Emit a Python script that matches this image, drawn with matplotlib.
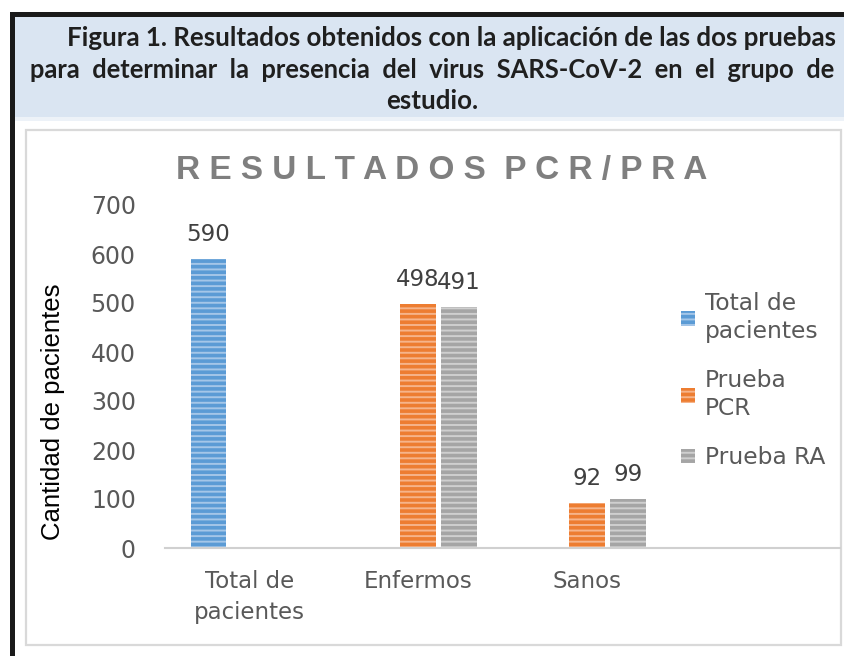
import numpy as np
import matplotlib.pyplot as plt
from matplotlib.patches import Rectangle, Patch

# data
categories = ['Total de\npacientes', 'Enfermos', 'Sanos', '']
series_names = ['Total de\npacientes', 'Prueba\nPCR', 'Prueba RA']
total_vals = [590, np.nan, np.nan, np.nan]
pcr_vals = [np.nan, 498, 92, np.nan]
ra_vals = [np.nan, 491, 99, np.nan]
yticks = [0, 100, 200, 300, 400, 500, 600, 700]

header_lines = ['Figura 1. Resultados obtenidos con la aplicación de las dos pruebas',
                'para  determinar  la  presencia  del  virus  SARS-CoV-2  en  el  grupo  de',
                'estudio.']

colors = ['#5B9BD5', '#ED7D31', '#A5A5A5']
stripes = ['#A4C6E8', '#F6B48A', '#CFCFCF']

plt.rcParams['hatch.linewidth'] = 1.4

W, H = 845, 656
fig = plt.figure(figsize=(W / 100, H / 100), dpi=100)

def fx(px):
    return px / W

def fy(py):
    return 1 - py / H

# page decorations: black frame, blue header band, chart box
fig.patches.append(Rectangle((fx(15), fy(117)), fx(830), 100 / H, transform=fig.transFigure,
                             facecolor='#DAE5F2', edgecolor='none', zorder=0))
fig.patches.append(Rectangle((fx(15), fy(121)), fx(830), 4 / H, transform=fig.transFigure,
                             facecolor='#EDF2F8', edgecolor='none', zorder=0))
fig.patches.append(Rectangle((fx(10), fy(17)), fx(835), 5 / H, transform=fig.transFigure,
                             facecolor='#1A1A1A', edgecolor='none', zorder=1))
fig.patches.append(Rectangle((fx(10), 0), fx(5), fy(12), transform=fig.transFigure,
                             facecolor='#1A1A1A', edgecolor='none', zorder=1))
fig.patches.append(Rectangle((fx(26), fy(645)), fx(815), 515 / H, transform=fig.transFigure,
                             facecolor='white', edgecolor='#D9D9D9', linewidth=1.6, zorder=0))

# header text
hfont = dict(family='Lato', weight='bold', color='#1F1F1F')
fig.text(fx(836), fy(38), header_lines[0], ha='right', va='center', size=18.6, **hfont)
fig.text(fx(30), fy(70), header_lines[1], ha='left', va='center', size=18.4, **hfont)
fig.text(fx(432), fy(101), header_lines[2], ha='center', va='center', size=18.6, **hfont)

# chart title (Excel letter spacing)
fig.text(fx(442), fy(170), 'R E S U L T A D O S  P C R / P R A',
         ha='center', va='center', family='Liberation Sans', weight='bold',
         size=24, color='#7F7F7F')

ax = fig.add_axes([fx(165), fy(548), fx(840) - fx(165), (548 - 205) / H])
ax.set_zorder(3)
x = np.arange(len(categories))
off = 0.243
bw = 0.21
all_vals = [total_vals, pcr_vals, ra_vals]
for i, vals in enumerate(all_vals):
    xs = x + (i - 1) * off
    ax.bar(xs, vals, bw, color=colors[i], edgecolor=stripes[i], linewidth=0,
           hatch='---', zorder=2)
    for xi, v in zip(xs, vals):
        if not np.isnan(v):
            ax.text(xi, v + 50, '%d' % v, ha='center', va='center', fontsize=16.5,
                    family='DejaVu Sans', color='#404040')

ax.set_xlim(-0.5, 3.5)
ax.set_ylim(0, 700)
ax.set_yticks(yticks)
ax.set_xticks(x[:3])
ax.set_xticklabels(categories[:3], family='DejaVu Sans', fontsize=16.5, color='#595959',
                   linespacing=1.45)
for lab in ax.get_yticklabels():
    lab.set_family('DejaVu Sans')
    lab.set_fontsize(17)
    lab.set_color('#595959')
ax.tick_params(axis='both', length=0)
ax.tick_params(axis='y', pad=21)
ax.tick_params(axis='x', pad=16)
for s in ['top', 'right', 'left']:
    ax.spines[s].set_visible(False)
ax.spines['bottom'].set_color('#D0D0D0')
ax.spines['bottom'].set_linewidth(1.5)
ax.patch.set_alpha(0)

fig.text(fx(53), fy(412), 'Cantidad de pacientes', rotation=90, ha='center', va='center',
         family='Liberation Sans', fontsize=18.5, color='black')

handles = [Patch(facecolor=colors[i], edgecolor=stripes[i], linewidth=0, hatch='---')
           for i in range(3)]
leg = fig.legend(handles, series_names, loc='upper left', bbox_to_anchor=(fx(660), fy(271)),
                 frameon=False, prop={'family': 'DejaVu Sans', 'size': 16.8},
                 handlelength=0.6, handleheight=0.6, handletextpad=0.42,
                 labelspacing=1.1, labelcolor='#595959')
for t in leg.get_texts():
    t.set_linespacing(1.3)

fig.savefig('out.png', dpi=100)
